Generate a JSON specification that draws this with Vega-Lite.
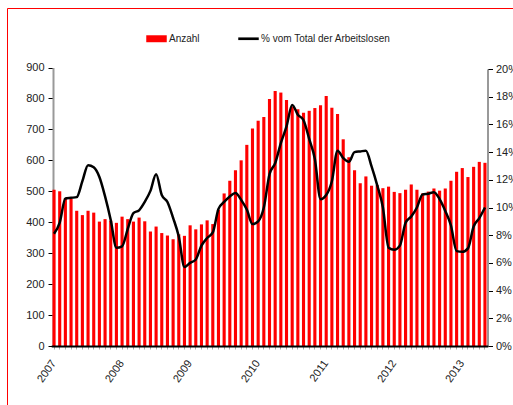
{
  "$schema": "https://vega.github.io/schema/vega-lite/v6.json",
  "width": 506,
  "height": 397,
  "autosize": "none",
  "padding": {"left": 7, "top": 8, "right": 0, "bottom": 0},
  "background": "white",
  "config": {"view": {"stroke": "#ff0000", "strokeWidth": 1}, "font": "Liberation Sans"},
  "data": {"values": [
    {"m": "2007-01", "n": 505, "p": 8.1},
    {"m": "2007-02", "n": 500, "p": 8.9},
    {"m": "2007-03", "n": 478, "p": 10.65},
    {"m": "2007-04", "n": 475, "p": 10.7},
    {"m": "2007-05", "n": 437, "p": 10.75},
    {"m": "2007-06", "n": 423, "p": 11.9},
    {"m": "2007-07", "n": 437, "p": 13.05},
    {"m": "2007-08", "n": 431, "p": 12.9},
    {"m": "2007-09", "n": 402, "p": 12.2},
    {"m": "2007-10", "n": 410, "p": 10.8},
    {"m": "2007-11", "n": 405, "p": 9.1},
    {"m": "2007-12", "n": 398, "p": 7.1},
    {"m": "2008-01", "n": 418, "p": 7.2},
    {"m": "2008-02", "n": 410, "p": 8.45},
    {"m": "2008-03", "n": 402, "p": 9.6},
    {"m": "2008-04", "n": 415, "p": 9.8},
    {"m": "2008-05", "n": 403, "p": 10.4},
    {"m": "2008-06", "n": 370, "p": 11.2},
    {"m": "2008-07", "n": 386, "p": 12.4},
    {"m": "2008-08", "n": 365, "p": 10.9},
    {"m": "2008-09", "n": 357, "p": 10.4},
    {"m": "2008-10", "n": 345, "p": 9.25},
    {"m": "2008-11", "n": 361, "p": 7.9},
    {"m": "2008-12", "n": 356, "p": 5.7},
    {"m": "2009-01", "n": 390, "p": 6.0},
    {"m": "2009-02", "n": 377, "p": 6.25},
    {"m": "2009-03", "n": 393, "p": 7.25},
    {"m": "2009-04", "n": 406, "p": 7.8},
    {"m": "2009-05", "n": 394, "p": 8.2},
    {"m": "2009-06", "n": 440, "p": 9.9},
    {"m": "2009-07", "n": 493, "p": 10.4},
    {"m": "2009-08", "n": 534, "p": 10.8},
    {"m": "2009-09", "n": 568, "p": 11.05},
    {"m": "2009-10", "n": 600, "p": 10.55},
    {"m": "2009-11", "n": 650, "p": 9.85},
    {"m": "2009-12", "n": 703, "p": 8.8},
    {"m": "2010-01", "n": 728, "p": 9.0},
    {"m": "2010-02", "n": 740, "p": 10.0},
    {"m": "2010-03", "n": 798, "p": 12.4},
    {"m": "2010-04", "n": 824, "p": 13.2},
    {"m": "2010-05", "n": 819, "p": 14.65},
    {"m": "2010-06", "n": 795, "p": 15.85},
    {"m": "2010-07", "n": 773, "p": 17.4},
    {"m": "2010-08", "n": 765, "p": 16.7},
    {"m": "2010-09", "n": 754, "p": 16.3},
    {"m": "2010-10", "n": 760, "p": 14.95},
    {"m": "2010-11", "n": 769, "p": 13.5},
    {"m": "2010-12", "n": 778, "p": 10.6},
    {"m": "2011-01", "n": 808, "p": 10.9},
    {"m": "2011-02", "n": 770, "p": 11.9},
    {"m": "2011-03", "n": 750, "p": 14.1},
    {"m": "2011-04", "n": 668, "p": 13.57},
    {"m": "2011-05", "n": 610, "p": 13.3},
    {"m": "2011-06", "n": 568, "p": 14.0},
    {"m": "2011-07", "n": 526, "p": 14.05},
    {"m": "2011-08", "n": 548, "p": 14.1},
    {"m": "2011-09", "n": 518, "p": 12.97},
    {"m": "2011-10", "n": 520, "p": 11.6},
    {"m": "2011-11", "n": 510, "p": 10.0},
    {"m": "2011-12", "n": 515, "p": 7.1},
    {"m": "2012-01", "n": 498, "p": 6.95},
    {"m": "2012-02", "n": 494, "p": 7.25},
    {"m": "2012-03", "n": 505, "p": 8.9},
    {"m": "2012-04", "n": 522, "p": 9.35},
    {"m": "2012-05", "n": 505, "p": 10.0},
    {"m": "2012-06", "n": 493, "p": 10.95},
    {"m": "2012-07", "n": 499, "p": 11.0},
    {"m": "2012-08", "n": 509, "p": 11.1},
    {"m": "2012-09", "n": 502, "p": 10.6},
    {"m": "2012-10", "n": 509, "p": 9.75},
    {"m": "2012-11", "n": 534, "p": 8.7},
    {"m": "2012-12", "n": 563, "p": 6.85},
    {"m": "2013-01", "n": 575, "p": 6.8},
    {"m": "2013-02", "n": 546, "p": 7.05},
    {"m": "2013-03", "n": 579, "p": 8.63},
    {"m": "2013-04", "n": 595, "p": 9.23},
    {"m": "2013-05", "n": 592, "p": 10.0}
  ]},
  "encoding": {
    "x": {
      "field": "m",
      "type": "ordinal",
      "sort": null,
      "scale": {"range": [44.2, 480.8], "paddingInner": 0.45, "paddingOuter": 0.225},
      "axis": {
        "orient": "bottom",
        "offset": -59,
        "title": null,
        "zindex": 1,
        "labelExpr": "substring(datum.value,5,7) == '01' ? substring(datum.value,0,4) : ''",
        "labelAngle": -55,
        "labelAlign": "right",
        "labelBaseline": "middle",
        "labelPadding": 12,
        "labelFontSize": 11,
        "labelColor": "#222",
        "tickSize": 3,
        "tickColor": "#aaaaaa",
        "domainColor": "#000000",
        "domainWidth": 2
      }
    }
  },
  "layer": [
    {
      "mark": {"type": "bar", "color": "#ff0000"},
      "encoding": {
        "y": {
          "field": "n",
          "type": "quantitative",
          "scale": {"domain": [0, 900], "range": [338, 59.5], "nice": false, "zero": true},
          "axis": {
            "orient": "left",
            "offset": -46,
            "title": null,
            "grid": false,
            "values": [0, 100, 200, 300, 400, 500, 600, 700, 800, 900],
            "domainColor": "#999999",
            "domainWidth": 2,
            "tickColor": "#000000",
            "tickSize": 5,
            "labelPadding": 4,
            "labelFontSize": 11,
            "labelColor": "#222"
          }
        },
        "color": {
          "datum": "Anzahl",
          "type": "nominal",
          "scale": {"domain": ["Anzahl", "% vom Total der Arbeitslosen"], "range": ["#ff0000", "#000000"]},
          "legend": {
            "orient": "none",
            "legendX": 139,
            "legendY": 20,
            "direction": "horizontal",
            "title": null,
            "padding": 0,
            "labelFontSize": 10,
            "labelColor": "#222",
            "labelOffset": 2,
            "columnPadding": 38,
            "symbolSize": 420,
            "encode": {
              "symbols": {
                "update": {
                  "shape": {"signal": "datum.value === 'Anzahl' ? 'M-1,-0.34H1V0.34H-1Z' : 'M-1,-0.13H1V0.13H-1Z'"},
                  "fill": {"signal": "datum.value === 'Anzahl' ? '#ff0000' : '#000000'"},
                  "stroke": {"value": "transparent"},
                  "strokeWidth": {"value": 0},
                  "opacity": {"value": 1}
                }
              }
            }
          }
        }
      }
    },
    {
      "mark": {"type": "line", "interpolate": "monotone", "strokeWidth": 2.5},
      "encoding": {
        "y": {
          "field": "p",
          "type": "quantitative",
          "scale": {"domain": [0, 20], "range": [338, 61], "nice": false},
          "axis": {
            "orient": "right",
            "offset": -25.5,
            "title": null,
            "grid": false,
            "values": [0, 2, 4, 6, 8, 10, 12, 14, 16, 18, 20],
            "labelExpr": "datum.value + '%'",
            "domainColor": "#999999",
            "domainWidth": 2,
            "tickColor": "#000000",
            "tickSize": 5,
            "labelPadding": 3,
            "labelFontSize": 11,
            "labelColor": "#222"
          }
        },
        "color": {"datum": "% vom Total der Arbeitslosen", "type": "nominal"}
      }
    }
  ],
  "resolve": {"scale": {"y": "independent"}}
}
